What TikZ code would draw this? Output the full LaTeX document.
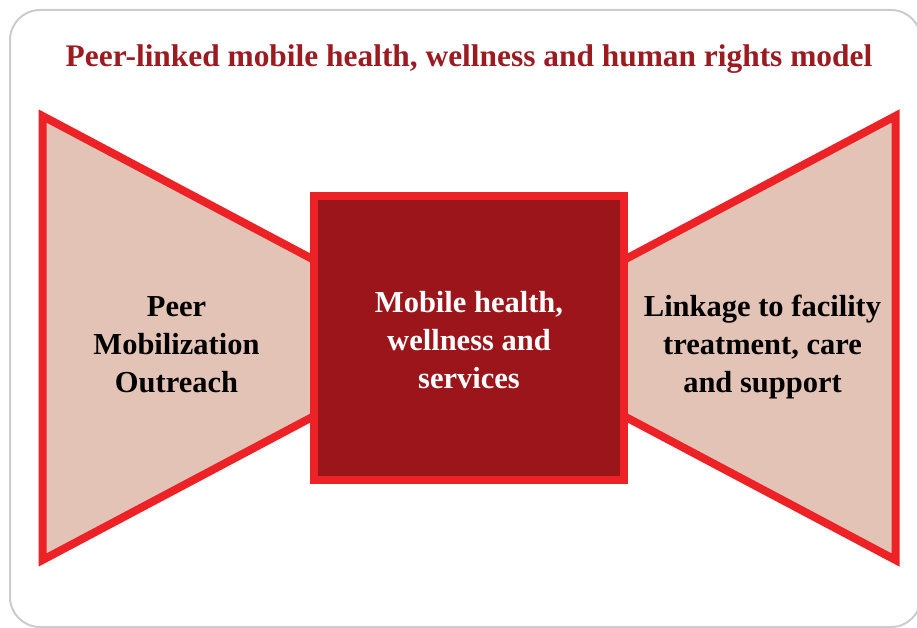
\documentclass[tikz,border=0pt]{standalone}
\usepackage{fontspec}
\setmainfont{Liberation Serif}
\definecolor{framegray}{HTML}{CCCCCC}
\definecolor{bowred}{HTML}{EC2227}
\definecolor{bowfill}{HTML}{E3C3B6}
\definecolor{boxdark}{HTML}{9C151A}
\definecolor{titlered}{HTML}{9B1B20}
\tikzset{
  wing/.style={draw=bowred, fill=bowfill, line width=8pt, line join=miter, miter limit=10},
  hub/.style={draw=bowred, fill=boxdark, line width=8pt},
  wingtext/.style={font=\bfseries\fontsize{30.5}{38}\selectfont, align=center, text=black, inner sep=0pt, anchor=base},
  hubtext/.style={font=\bfseries\fontsize{30.5}{38}\selectfont, align=center, text=white, inner sep=0pt, anchor=base},
  titletext/.style={font=\bfseries\fontsize{31.4}{36}\selectfont, text=titlered, inner sep=0pt, anchor=base}
}
\begin{document}
\begin{tikzpicture}[x=1pt,y=-1pt]
\useasboundingbox (0,0) rectangle (917,628);
\draw[framegray, line width=2pt, rounded corners=30pt] (10,10) rectangle (921,627);
\node[titletext] (title) at (469,67) {Peer-linked mobile health, wellness and human rights model};
\draw[wing] (42.5,116) -- (318,262) -- (318,414) -- (42.5,560) -- cycle;
\draw[wing] (895.5,116) -- (620,262) -- (620,414) -- (895.5,560) -- cycle;
\draw[hub] (314,196) rectangle (624,480);
\node[wingtext] (left) at (176.5,392) {Peer\\Mobilization\\Outreach};
\node[hubtext] (mid) at (469,388) {Mobile health,\\wellness and\\services};
\node[wingtext] (right) at (762.5,392) {Linkage to facility\\treatment, care\\and support};
\end{tikzpicture}
\end{document}
